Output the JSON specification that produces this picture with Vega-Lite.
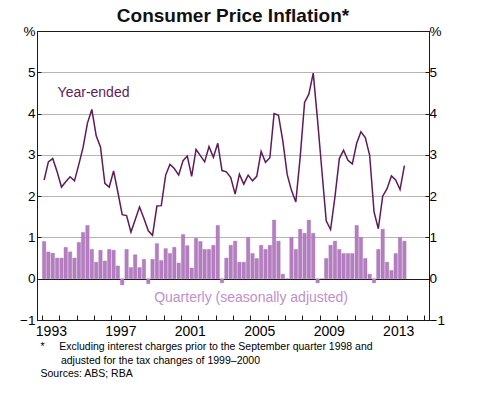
{
  "$schema": "https://vega.github.io/schema/vega-lite/v6.json",
  "width": 392,
  "height": 289,
  "autosize": {"type": "none"},
  "padding": {"left": 37, "top": 31, "right": 55, "bottom": 74},
  "config": {
    "view": {"stroke": "#1a1a1a", "strokeWidth": 1},
    "font": "Liberation Sans",
    "axis": {"labelFont": "Liberation Sans", "titleFont": "Liberation Sans", "labelColor": "#000", "domainColor": "#1a1a1a", "tickColor": "#1a1a1a"}
  },
  "title": {
    "text": "Consumer Price Inflation*",
    "font": "Liberation Sans",
    "fontSize": 19,
    "fontWeight": "bold",
    "color": "#111",
    "anchor": "middle",
    "frame": "group",
    "offset": -1.5
  },
  "datasets": {
    "cpi": [
      {"date": "1993-02-15", "quarterly": 0.90, "yearEnded": 2.39},
      {"date": "1993-05-15", "quarterly": 0.65, "yearEnded": 2.83},
      {"date": "1993-08-15", "quarterly": 0.62, "yearEnded": 2.91},
      {"date": "1993-11-15", "quarterly": 0.50, "yearEnded": 2.59},
      {"date": "1994-02-15", "quarterly": 0.50, "yearEnded": 2.22},
      {"date": "1994-05-15", "quarterly": 0.76, "yearEnded": 2.35},
      {"date": "1994-08-15", "quarterly": 0.65, "yearEnded": 2.47},
      {"date": "1994-11-15", "quarterly": 0.50, "yearEnded": 2.37},
      {"date": "1995-02-15", "quarterly": 0.88, "yearEnded": 2.77},
      {"date": "1995-05-15", "quarterly": 1.12, "yearEnded": 3.18},
      {"date": "1995-08-15", "quarterly": 1.29, "yearEnded": 3.77},
      {"date": "1995-11-15", "quarterly": 0.71, "yearEnded": 4.10},
      {"date": "1996-02-15", "quarterly": 0.40, "yearEnded": 3.46},
      {"date": "1996-05-15", "quarterly": 0.69, "yearEnded": 3.19},
      {"date": "1996-08-15", "quarterly": 0.43, "yearEnded": 2.31},
      {"date": "1996-11-15", "quarterly": 0.71, "yearEnded": 2.22},
      {"date": "1997-02-15", "quarterly": 0.69, "yearEnded": 2.61},
      {"date": "1997-05-15", "quarterly": 0.31, "yearEnded": 2.10},
      {"date": "1997-08-15", "quarterly": -0.15, "yearEnded": 1.55},
      {"date": "1997-11-15", "quarterly": 0.71, "yearEnded": 1.53},
      {"date": "1998-02-15", "quarterly": 0.27, "yearEnded": 1.13},
      {"date": "1998-05-15", "quarterly": 0.58, "yearEnded": 1.43},
      {"date": "1998-08-15", "quarterly": 0.27, "yearEnded": 1.74},
      {"date": "1998-11-15", "quarterly": 0.47, "yearEnded": 1.46},
      {"date": "1999-02-15", "quarterly": -0.12, "yearEnded": 1.16},
      {"date": "1999-05-15", "quarterly": 0.47, "yearEnded": 1.05},
      {"date": "1999-08-15", "quarterly": 0.85, "yearEnded": 1.76},
      {"date": "1999-11-15", "quarterly": 0.44, "yearEnded": 1.77},
      {"date": "2000-02-15", "quarterly": 0.73, "yearEnded": 2.51},
      {"date": "2000-05-15", "quarterly": 0.61, "yearEnded": 2.77},
      {"date": "2000-08-15", "quarterly": 0.76, "yearEnded": 2.67},
      {"date": "2000-11-15", "quarterly": 0.38, "yearEnded": 2.51},
      {"date": "2001-02-15", "quarterly": 1.07, "yearEnded": 2.86},
      {"date": "2001-05-15", "quarterly": 0.80, "yearEnded": 2.97},
      {"date": "2001-08-15", "quarterly": 0.26, "yearEnded": 2.48},
      {"date": "2001-11-15", "quarterly": 0.98, "yearEnded": 3.13},
      {"date": "2002-02-15", "quarterly": 0.90, "yearEnded": 2.98},
      {"date": "2002-05-15", "quarterly": 0.71, "yearEnded": 2.83},
      {"date": "2002-08-15", "quarterly": 0.71, "yearEnded": 3.20},
      {"date": "2002-11-15", "quarterly": 0.81, "yearEnded": 2.94},
      {"date": "2003-02-15", "quarterly": 1.29, "yearEnded": 3.28},
      {"date": "2003-05-15", "quarterly": -0.10, "yearEnded": 2.62},
      {"date": "2003-08-15", "quarterly": 0.50, "yearEnded": 2.59},
      {"date": "2003-11-15", "quarterly": 0.81, "yearEnded": 2.45},
      {"date": "2004-02-15", "quarterly": 0.91, "yearEnded": 2.05},
      {"date": "2004-05-15", "quarterly": 0.40, "yearEnded": 2.53},
      {"date": "2004-08-15", "quarterly": 0.40, "yearEnded": 2.29},
      {"date": "2004-11-15", "quarterly": 1.00, "yearEnded": 2.51},
      {"date": "2005-02-15", "quarterly": 0.61, "yearEnded": 2.37},
      {"date": "2005-05-15", "quarterly": 0.49, "yearEnded": 2.48},
      {"date": "2005-08-15", "quarterly": 0.81, "yearEnded": 3.08},
      {"date": "2005-11-15", "quarterly": 0.71, "yearEnded": 2.82},
      {"date": "2006-02-15", "quarterly": 0.81, "yearEnded": 2.93},
      {"date": "2006-05-15", "quarterly": 1.42, "yearEnded": 4.00},
      {"date": "2006-08-15", "quarterly": 0.91, "yearEnded": 3.96},
      {"date": "2006-11-15", "quarterly": 0.11, "yearEnded": 3.33},
      {"date": "2007-02-15", "quarterly": 0.00, "yearEnded": 2.52},
      {"date": "2007-05-15", "quarterly": 1.00, "yearEnded": 2.14},
      {"date": "2007-08-15", "quarterly": 0.71, "yearEnded": 1.86},
      {"date": "2007-11-15", "quarterly": 1.20, "yearEnded": 2.95},
      {"date": "2008-02-15", "quarterly": 1.10, "yearEnded": 4.27},
      {"date": "2008-05-15", "quarterly": 1.42, "yearEnded": 4.47},
      {"date": "2008-08-15", "quarterly": 1.10, "yearEnded": 4.98},
      {"date": "2008-11-15", "quarterly": -0.10, "yearEnded": 3.83},
      {"date": "2009-02-15", "quarterly": 0.00, "yearEnded": 2.59},
      {"date": "2009-05-15", "quarterly": 0.49, "yearEnded": 1.40},
      {"date": "2009-08-15", "quarterly": 0.81, "yearEnded": 1.19},
      {"date": "2009-11-15", "quarterly": 0.91, "yearEnded": 1.98},
      {"date": "2010-02-15", "quarterly": 0.71, "yearEnded": 2.91},
      {"date": "2010-05-15", "quarterly": 0.61, "yearEnded": 3.11},
      {"date": "2010-08-15", "quarterly": 0.61, "yearEnded": 2.87},
      {"date": "2010-11-15", "quarterly": 0.61, "yearEnded": 2.78},
      {"date": "2011-02-15", "quarterly": 1.29, "yearEnded": 3.28},
      {"date": "2011-05-15", "quarterly": 1.00, "yearEnded": 3.56},
      {"date": "2011-08-15", "quarterly": 0.49, "yearEnded": 3.42},
      {"date": "2011-11-15", "quarterly": 0.11, "yearEnded": 2.99},
      {"date": "2012-02-15", "quarterly": -0.10, "yearEnded": 1.62},
      {"date": "2012-05-15", "quarterly": 0.71, "yearEnded": 1.21},
      {"date": "2012-08-15", "quarterly": 1.20, "yearEnded": 2.00},
      {"date": "2012-11-15", "quarterly": 0.40, "yearEnded": 2.18},
      {"date": "2013-02-15", "quarterly": 0.20, "yearEnded": 2.49},
      {"date": "2013-05-15", "quarterly": 0.61, "yearEnded": 2.39},
      {"date": "2013-08-15", "quarterly": 1.00, "yearEnded": 2.16},
      {"date": "2013-11-15", "quarterly": 0.91, "yearEnded": 2.74}
    ]
  },
  "layer": [
    {
      "data": {"name": "cpi"},
      "mark": {"type": "bar", "width": 3.4, "color": "#b47fc0", "stroke": "#a86db5", "strokeWidth": 0.4},
      "encoding": {
        "x": {
          "field": "date", "type": "temporal",
          "scale": {"type": "utc", "domain": [{"year": 1993, "month": 1, "date": 1, "utc": true}, {"year": 2015, "month": 1, "date": 1, "utc": true}]},
          "axis": {
            "orient": "bottom",
            "tickCount": {"interval": "year", "step": 1},
            "tickSize": -5,
            "grid": false,
            "labelExpr": "(utcyear(datum.value) - 1993) % 4 == 0 ? utcFormat(datum.value, '%Y') : ''",
            "labelOffset": 8.9,
            "labelFlush": false,
            "labelOverlap": false,
            "labelBound": false,
            "labelFontSize": 14,
            "labelPadding": 9,
            "labelAngle": 0,
            "title": ["*\u00a0\u00a0\u00a0\u00a0\u00a0Excluding interest charges prior to the September quarter 1998 and", "\u200b\u00a0\u00a0\u00a0\u00a0\u00a0\u00a0\u00a0adjusted for the tax changes of 1999\u20132000", "Sources: ABS; RBA"],
            "titleFontSize": 10.5,
            "titleFontWeight": "normal",
            "titleColor": "#000",
            "titleAnchor": "start",
            "titleAlign": "left",
            "titleBaseline": "alphabetic",
            "titleX": 3,
            "titleY": 29.5,
            "titleLineHeight": 13.5
          }
        },
        "y": {
          "field": "quarterly", "type": "quantitative",
          "scale": {"domain": [-1, 6], "nice": false, "zero": false},
          "axis": {
            "orient": "left",
            "values": [-1, 0, 1, 2, 3, 4, 5, 6],
            "labelExpr": "datum.value == 6 ? '%' : datum.label",
            "labelFontSize": 13.5,
            "tickSize": -4,
            "labelPadding": 6,
            "title": null,
            "grid": true,
            "gridColor": {"condition": {"test": "datum.value == 0", "value": "#1a1a1a"}, "value": "#b5b5b5"},
            "gridOpacity": {"condition": {"test": "datum.value == -1 || datum.value == 6", "value": 0}, "value": 1}
          }
        }
      }
    },
    {
      "data": {"name": "cpi"},
      "mark": {"type": "line", "color": "#5e1a5b", "strokeWidth": 1.5},
      "encoding": {
        "x": {"field": "date", "type": "temporal"},
        "y": {
          "field": "yearEnded", "type": "quantitative",
          "axis": {
            "orient": "right",
            "values": [-1, 0, 1, 2, 3, 4, 5, 6],
            "labelExpr": "datum.value == 6 ? '%' : datum.label",
            "labelFontSize": 13.5,
            "tickSize": -4,
            "labelPadding": 4,
            "title": null,
            "grid": false
          }
        }
      }
    },
    {
      "data": {"values": [{"label": "Year-ended"}]},
      "mark": {"type": "text", "align": "left", "baseline": "middle", "fontSize": 14, "color": "#5e1a5b", "font": "Liberation Sans"},
      "encoding": {
        "text": {"field": "label"},
        "x": {"datum": {"year": 1993, "month": 11, "date": 25, "utc": true}, "type": "temporal"},
        "y": {"datum": 4.5, "type": "quantitative", "axis": null}
      }
    },
    {
      "data": {"values": [{"label": "Quarterly (seasonally adjusted)"}]},
      "mark": {"type": "text", "align": "left", "baseline": "middle", "fontSize": 14, "color": "#c08fcd", "font": "Liberation Sans"},
      "encoding": {
        "text": {"field": "label"},
        "x": {"datum": {"year": 1999, "month": 6, "date": 18, "utc": true}, "type": "temporal"},
        "y": {"datum": -0.47, "type": "quantitative", "axis": null}
      }
    }
  ],
  "resolve": {"axis": {"y": "independent"}}
}
